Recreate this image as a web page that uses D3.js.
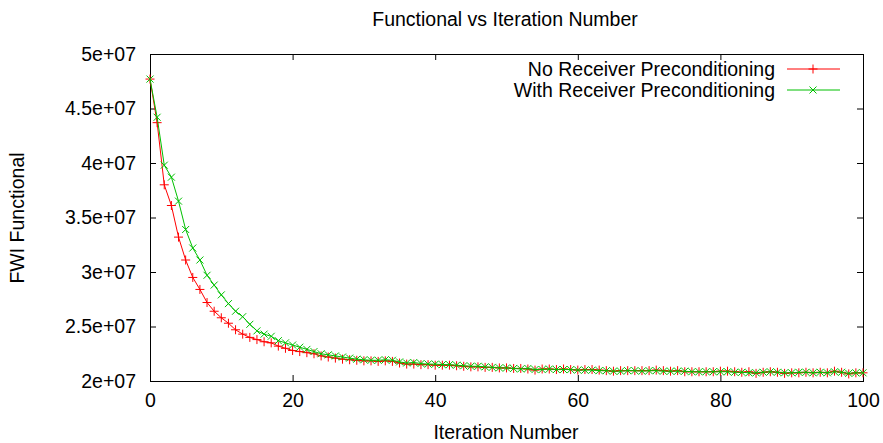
<!DOCTYPE html>
<html>
<head>
<meta charset="utf-8">
<script src="https://cdn.jsdelivr.net/npm/d3@7"></script>
<style>
  html, body { margin: 0; padding: 0; background: #fff; }
  svg { display: block; }
  text { font-family: "Liberation Sans", Arial, sans-serif; fill: #000; }
</style>
</head>
<body>
<div id="chart"></div>
<script>
// FWI functional per iteration (values in units of 1e6)
const iterations = d3.range(0, 101);

const noPrecond = [
  47.7, 43.7, 38.0, 36.1, 33.2, 31.1, 29.5, 28.4, 27.2, 26.4,
  25.8, 25.3, 24.7, 24.3, 24.0, 23.8, 23.6, 23.5, 23.2, 23.0,
  22.8, 22.7, 22.6, 22.5, 22.3, 22.2, 22.1, 22.0, 21.95, 21.9,
  21.85, 21.85, 21.8, 21.85, 21.8, 21.65, 21.55, 21.55, 21.5, 21.5,
  21.45, 21.45, 21.45, 21.4, 21.35, 21.3, 21.3, 21.25, 21.25, 21.2,
  21.2, 21.15, 21.15, 21.1, 21.0, 21.1, 21.1, 21.05, 21.1, 21.05,
  21.0, 21.05, 21.05, 21.0, 20.95, 20.9, 20.95, 20.95, 20.95, 20.95,
  20.95, 21.0, 20.95, 20.9, 20.95, 20.85, 20.85, 20.85, 20.85, 20.85,
  20.9, 20.9, 20.85, 20.8, 20.85, 20.7, 20.8, 20.85, 20.8, 20.7,
  20.75, 20.75, 20.8, 20.75, 20.8, 20.75, 20.9, 20.8, 20.65, 20.75,
  20.75
];

const withPrecond = [
  47.7, 44.2, 39.8, 38.7, 36.5, 33.9, 32.2, 31.1, 29.7, 28.8,
  27.9, 27.1, 26.4, 25.9, 25.2, 24.6, 24.3, 24.1, 23.7, 23.5,
  23.3, 23.1, 22.9, 22.7, 22.5, 22.4, 22.3, 22.2, 22.1, 22.0,
  21.95, 21.9, 21.9, 21.95, 21.9, 21.75, 21.65, 21.7, 21.6, 21.55,
  21.55, 21.5, 21.5, 21.45, 21.4, 21.35, 21.35, 21.3, 21.25, 21.2,
  21.2, 21.15, 21.1, 21.15, 21.05, 21.05, 21.1, 21.05, 21.05, 21.05,
  21.0, 21.0, 21.0, 20.95, 20.95, 20.9, 20.9, 20.95, 20.95, 20.9,
  20.95, 20.95, 20.9, 20.9, 20.9, 20.9, 20.85, 20.85, 20.85, 20.85,
  20.85, 20.85, 20.8, 20.8, 20.75, 20.75, 20.8, 20.85, 20.8, 20.75,
  20.75, 20.8, 20.8, 20.75, 20.8, 20.75, 20.85, 20.8, 20.7, 20.75,
  20.75
];

const seriesNames = ["No Receiver Preconditioning", "With Receiver Preconditioning"];
const seriesColors = ["#ff0000", "#00c000"];
const xTicks = [0, 20, 40, 60, 80, 100];
const yTicks = [2e7, 2.5e7, 3e7, 3.5e7, 4e7, 4.5e7, 5e7];
const yTickLabels = ["2e+07", "2.5e+07", "3e+07", "3.5e+07", "4e+07", "4.5e+07", "5e+07"];

const W = 883, H = 443;
const margin = { left: 150, right: 20, top: 54, bottom: 62 };
const innerW = W - margin.left - margin.right;
const innerH = H - margin.top - margin.bottom;

const svg = d3.select("#chart").append("svg").attr("width", W).attr("height", H);

const x = d3.scaleLinear().domain([0, 100]).range([margin.left, margin.left + innerW]);
const y = d3.scaleLinear().domain([2e7, 5e7]).range([margin.top + innerH, margin.top]);

const fontSize = "19.5px";
const tickLen = 6;

// Axes with inward ticks on all four sides
const axisBottom = d3.axisBottom(x).tickValues(xTicks).tickSize(-tickLen).tickPadding(tickLen + 6).tickFormat(d3.format("d"));
const axisTop = d3.axisTop(x).tickValues(xTicks).tickSize(-tickLen).tickFormat("");
const axisLeft = d3.axisLeft(y).tickValues(yTicks).tickSize(-tickLen).tickPadding(tickLen + 8)
  .tickFormat((d, i) => yTickLabels[i]);
const axisRight = d3.axisRight(y).tickValues(yTicks).tickSize(-tickLen).tickFormat("");

function styleAxis(g) {
  g.select(".domain").remove();
  g.selectAll(".tick line").attr("stroke", "#000").attr("stroke-width", 1);
  g.selectAll(".tick text").style("font-size", fontSize).attr("fill", "#000");
}

svg.append("g").attr("transform", `translate(0,${margin.top + innerH})`).call(axisBottom).call(styleAxis);
svg.append("g").attr("transform", `translate(0,${margin.top})`).call(axisTop).call(styleAxis);
svg.append("g").attr("transform", `translate(${margin.left},0)`).call(axisLeft).call(styleAxis);
svg.append("g").attr("transform", `translate(${margin.left + innerW},0)`).call(axisRight).call(styleAxis);

// Plot border
svg.append("rect")
  .attr("x", margin.left + 0.5).attr("y", margin.top + 0.5)
  .attr("width", innerW).attr("height", innerH)
  .attr("fill", "none").attr("stroke", "#000").attr("stroke-width", 1);

// Titles
svg.append("text").attr("x", 505).attr("y", 26).attr("text-anchor", "middle")
  .style("font-size", fontSize).text("Functional vs Iteration Number");
svg.append("text").attr("x", 506).attr("y", 439).attr("text-anchor", "middle")
  .style("font-size", fontSize).text("Iteration Number");
svg.append("text").attr("transform", "translate(24,218) rotate(-90)").attr("text-anchor", "middle")
  .style("font-size", fontSize).text("FWI Functional");

// Marker paths: "+" for the first series, "x" for the second
function plusPath(px, py, s) {
  return `M${px - s},${py}H${px + s}M${px},${py - s}V${py + s}`;
}
function crossPath(px, py, s) {
  return `M${px - s},${py - s}L${px + s},${py + s}M${px - s},${py + s}L${px + s},${py - s}`;
}
const markers = [(px, py) => plusPath(px, py, 4.5), (px, py) => crossPath(px, py, 3.5)];

const line = d3.line().x(d => x(d[0])).y(d => y(d[1] * 1e6));

[noPrecond, withPrecond].forEach((vals, k) => {
  const pts = iterations.map((it, i) => [it, vals[i]]);
  const g = svg.append("g");
  g.append("path").datum(pts).attr("d", line)
    .attr("fill", "none").attr("stroke", seriesColors[k]).attr("stroke-width", 1);
  g.selectAll("path.pt").data(pts).join("path").attr("class", "pt")
    .attr("d", d => markers[k](x(d[0]), y(d[1] * 1e6)))
    .attr("stroke", seriesColors[k]).attr("stroke-width", 1).attr("fill", "none");
});

// Legend
const legend = svg.append("g");
seriesNames.forEach((name, k) => {
  const ly = 69 + k * 21;
  legend.append("text").attr("x", 775).attr("y", ly + 7).attr("text-anchor", "end")
    .style("font-size", fontSize).text(name);
  legend.append("line").attr("x1", 787).attr("x2", 840).attr("y1", ly).attr("y2", ly)
    .attr("stroke", seriesColors[k]).attr("stroke-width", 1);
  legend.append("path").attr("d", markers[k](813, ly))
    .attr("stroke", seriesColors[k]).attr("stroke-width", 1).attr("fill", "none");
});
</script>
</body>
</html>
